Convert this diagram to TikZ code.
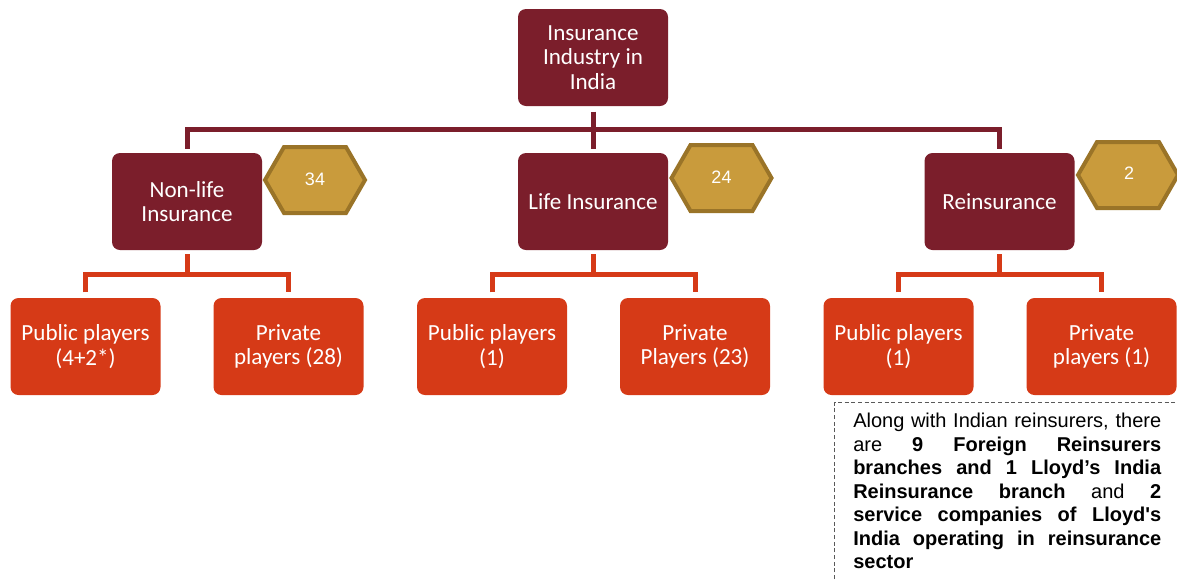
\documentclass[tikz,border=0pt]{standalone}
\usepackage{fontspec}
\setmainfont{Carlito}
\newfontfamily\arialf{Liberation Sans}
\definecolor{maroon}{HTML}{7B1E2B}
\definecolor{rust}{HTML}{D63A17}
\definecolor{goldfill}{HTML}{C99B3C}
\definecolor{goldline}{HTML}{9A7428}
\begin{document}
\begin{tikzpicture}[x=0.75pt,y=-0.75pt,
  box/.style={rounded corners=6pt, minimum width=112.5pt, minimum height=72.75pt,
    inner sep=0pt, align=center, text=white, font=\fontsize{17.3}{18.6}\selectfont},
  topbox/.style={box, fill=maroon},
  subbox/.style={box, fill=rust},
  conn/.style={draw=maroon, line width=3.75pt, line join=miter},
  conn2/.style={draw=rust, line width=3.75pt, line join=miter},
  hexlabel/.style={text=white, font=\arialf\fontsize{13.5}{16}\selectfont, inner sep=0pt},
  hexa/.pic={\draw[fill=goldfill, draw=goldline, line width=3pt, line join=miter]
     (-50,0) -- (-31,-33) -- (31,-33) -- (50,0) -- (31,33) -- (-31,33) -- cycle;}
]
\useasboundingbox (0,0) rectangle (1177,579);

% top level
\node[topbox] (root) at (593,57.5) {Insurance\\Industry in\\India};
\node[topbox] (nonlife) at (187,201.5) {Non-life\\Insurance};
\node[topbox] (life) at (593,201.5) {Life Insurance};
\node[topbox] (reins) at (999.5,201.5) {Reinsurance};

% hexagons
\pic at (315,180) {hexa};
\node[hexlabel] (h1) at (315,179) {34};
\pic at (721.5,178) {hexa};
\node[hexlabel] (h2) at (721.5,177) {24};
\pic at (1128,175) {hexa};
\node[hexlabel] (h3) at (1129,173) {2};

% bottom level
\node[subbox] (pub1) at (85.5,346.5) {Public players\\(4+2*)};
\node[subbox] (priv1) at (288.5,346.5) {Private\\players (28)};
\node[subbox] (pub2) at (492,346.5) {Public players\\(1)};
\node[subbox] (priv2) at (695,346.5) {Private\\Players (23)};
\node[subbox] (pub3) at (898.5,346.5) {Public players\\(1)};
\node[subbox] (priv3) at (1101.5,346.5) {Private\\players (1)};

% connectors level 1
\coordinate (bus) at (593,129.5);
\draw[conn, shorten <=4pt, shorten >=3pt] (root.south) -- (life.north);
\draw[conn, shorten <=3pt, shorten >=3pt] (nonlife.north) |- (bus) -| (reins.north);

% connectors level 2
\coordinate (b1) at (187,274.5);
\coordinate (b2) at (593,274.5);
\coordinate (b3) at (999.5,274.5);
\draw[conn2, shorten <=3pt] (nonlife.south) -- (b1);
\draw[conn2, shorten <=4pt, shorten >=4pt] (pub1.north) |- (b1) -| (priv1.north);
\draw[conn2, shorten <=3pt] (life.south) -- (b2);
\draw[conn2, shorten <=4pt, shorten >=4pt] (pub2.north) |- (b2) -| (priv2.north);
\draw[conn2, shorten <=3pt] (reins.south) -- (b3);
\draw[conn2, shorten <=4pt, shorten >=4pt] (pub3.north) |- (b3) -| (priv3.north);

% note
\coordinate (fbl) at (834.5,579);
\coordinate (ftl) at (834.5,402.5);
\coordinate (ftr) at (1177,402.5);
\draw[black!65, line width=1pt, dash pattern=on 3pt off 2pt] (fbl) -- (ftl) -- (ftr);
\node[anchor=north west, text width=231pt, align=justify, inner sep=0pt,
  font=\arialf\fontsize{15}{17.6}\selectfont] (note) at (853,413)
  {Along with Indian reinsurers, there\linebreak
   are \textbf{9 Foreign Reinsurers}\linebreak
   \textbf{branches and 1 Lloyd’s India}\linebreak
   \textbf{Reinsurance branch} and \textbf{2}\linebreak
   \textbf{service companies of Lloyd\textquotesingle s}\linebreak
   \textbf{India operating in reinsurance}\linebreak
   \textbf{sector}};
\end{tikzpicture}
\end{document}
